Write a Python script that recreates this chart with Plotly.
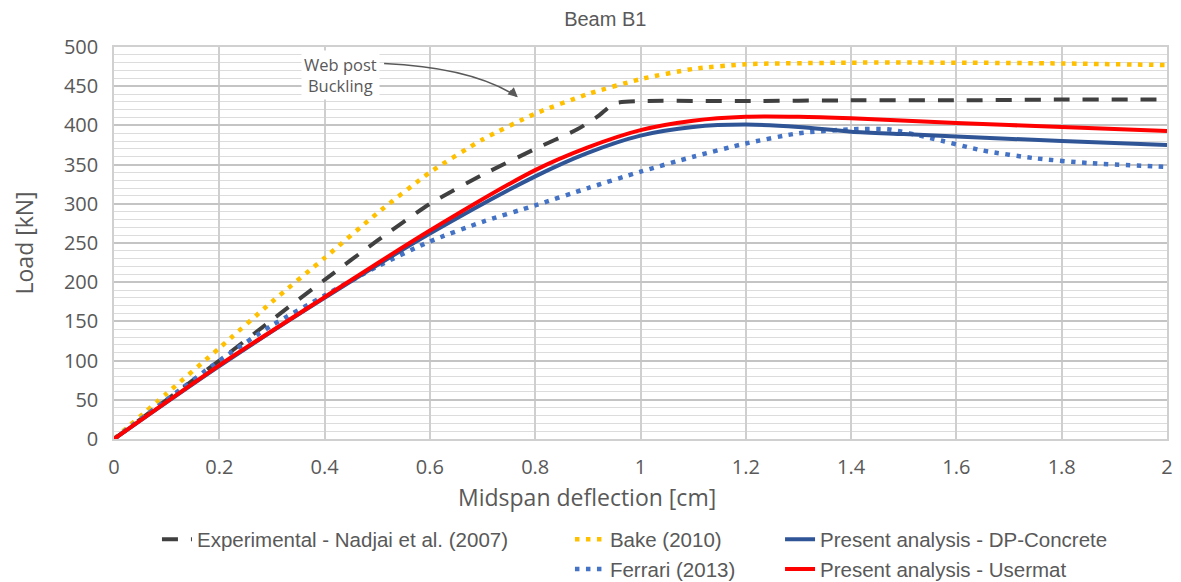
import plotly.graph_objects as go

# Data (deflection in cm, load in kN)
exp_x = [0, 0.1, 0.2, 0.3, 0.4, 0.5, 0.6, 0.7, 0.8, 0.88, 0.92, 0.95, 1.0, 1.2, 1.4, 1.6, 1.8, 2.0]
exp_y = [0, 50, 100, 152, 203, 253, 300, 337, 370, 395, 412, 428, 431, 431, 432, 432, 433, 433]

bake_x = [0, 0.1, 0.2, 0.3, 0.4, 0.5, 0.6, 0.7, 0.8, 0.9, 1.0, 1.1, 1.2, 1.4, 1.6, 1.8, 2.0]
bake_y = [0, 58, 116, 175, 231, 288, 340, 382, 415, 440, 459, 472, 478, 480, 480, 479, 477]

ferr_x = [0, 0.1, 0.2, 0.3, 0.4, 0.5, 0.6, 0.7, 0.8, 0.9, 1.0, 1.1, 1.2, 1.3, 1.4, 1.47, 1.55, 1.65, 1.75, 1.85, 2.0]
ferr_y = [0, 50, 100, 145, 183, 220, 252, 277, 298, 320, 341, 360, 377, 390, 395, 395, 384, 368, 358, 352, 347]

dp_x = [0, 0.2, 0.4, 0.6, 0.8, 0.9, 1.0, 1.1, 1.2, 1.3, 1.4, 1.5, 1.6, 1.8, 2.0]
dp_y = [0, 93, 180, 262, 335, 365, 387, 398, 401, 398, 392, 389, 386, 380, 375]

um_x = [0, 0.2, 0.4, 0.6, 0.8, 0.9, 1.0, 1.1, 1.2, 1.3, 1.4, 1.6, 1.8, 2.0]
um_y = [0, 94, 181, 266, 343, 372, 394, 406, 411, 411, 409, 403, 398, 393]

x_ticks = [0, 0.2, 0.4, 0.6, 0.8, 1, 1.2, 1.4, 1.6, 1.8, 2]
x_ticklabels = ["0", "0.2", "0.4", "0.6", "0.8", "1", "1.2", "1.4", "1.6", "1.8", "2"]

FONT = "Liberation Sans Narrow, Liberation Sans, Arial"
GREY = "#595959"

fig = go.Figure()
fig.add_trace(go.Scatter(x=exp_x, y=exp_y, mode="lines", name="Experimental - Nadjai et al. (2007)",
                         line=dict(color="#404040", width=4, dash="16px,13px", shape="spline", smoothing=0.6),
                         legend="legend"))
fig.add_trace(go.Scatter(x=bake_x, y=bake_y, mode="lines", name="Bake (2010)",
                         line=dict(color="#FFC000", width=4.5, dash="4.5px,6.5px", shape="spline", smoothing=0.6),
                         legend="legend2"))
fig.add_trace(go.Scatter(x=ferr_x, y=ferr_y, mode="lines", name="Ferrari (2013)",
                         line=dict(color="#4472C4", width=4.5, dash="4.5px,6.5px", shape="spline", smoothing=0.6),
                         legend="legend2"))
fig.add_trace(go.Scatter(x=dp_x, y=dp_y, mode="lines", name="Present analysis - DP-Concrete",
                         line=dict(color="#2F5597", width=4, shape="spline", smoothing=0.8),
                         legend="legend3"))
fig.add_trace(go.Scatter(x=um_x, y=um_y, mode="lines", name="Present analysis - Usermat",
                         line=dict(color="#FF0000", width=4, shape="spline", smoothing=0.8),
                         legend="legend3"))

# Annotation: curved arrow
fig.add_shape(type="path", xref="x", yref="y",
              path="M 0.513 479 Q 0.68 474 0.765 437",
              line=dict(color="#595959", width=1.5))
fig.add_annotation(x=0.767, y=436, xref="x", yref="y", text="", showarrow=True,
                   ax=-9, ay=-8, arrowhead=2, arrowsize=1.6, arrowwidth=1.2, arrowcolor="#595959")
fig.add_annotation(x=0.43, y=464, xref="x", yref="y", text="Web post<br>Buckling", showarrow=False,
                   font=dict(family="Open Sans", size=16.5, color=GREY), bgcolor="white",
                   borderpad=2, align="center")

# Axis titles as annotations
fig.add_annotation(x=(587 - 114) / 1053, y=(439 - 497) / 392, xref="paper", yref="paper", showarrow=False,
                   text="Midspan deflection [cm]", xanchor="center", yanchor="middle",
                   font=dict(family="Open Sans", size=23, color=GREY))
fig.add_annotation(x=-0.085, y=0.5, xref="paper", yref="paper", showarrow=False,
                   text="Load [kN]", textangle=-90, xanchor="center", yanchor="middle",
                   font=dict(family="Open Sans", size=23, color=GREY))

legend_common = dict(font=dict(family=FONT, size=20.5, color=GREY), bgcolor="rgba(0,0,0,0)",
                     orientation="v", yanchor="top", xanchor="left", tracegroupgap=0,
                     xref="container", yref="container")

fig.update_layout(
    width=1181, height=582,
    margin=dict(l=114, r=14, t=47, b=143, autoexpand=False),
    paper_bgcolor="white", plot_bgcolor="white",
    title=dict(text="Beam B1", x=0.5125, xref="container", y=0.968, yref="container",
               xanchor="center", yanchor="middle",
               font=dict(family=FONT, size=20, color=GREY)),
    showlegend=True,
    legend=dict(x=0.1329, y=0.1075, **legend_common),
    legend2=dict(x=0.4826, y=0.1075, **legend_common),
    legend3=dict(x=0.6605, y=0.1075, **legend_common),
    xaxis=dict(range=[0, 2], tickvals=x_ticks, ticktext=x_ticklabels,
               showgrid=True, gridcolor="#cfcfcf", gridwidth=1.5,
               showline=True, linecolor="#d0d0d0", linewidth=1.5, mirror=True,
               zeroline=False, ticks="", ticklabelstandoff=9,
               tickfont=dict(family="Open Sans", size=20, color=GREY)),
    yaxis=dict(range=[0, 500], dtick=50, tick0=0,
               showgrid=True, gridcolor="#c4c4c4", gridwidth=1.5,
               minor=dict(dtick=10, showgrid=True, gridcolor="#dcdcdc", gridwidth=1),
               showline=True, linecolor="#d0d0d0", linewidth=1.5, mirror=True,
               zeroline=False, ticks="", ticklabelstandoff=10,
               tickfont=dict(family="Open Sans", size=20, color=GREY)),
)

fig.write_html("out.html")
